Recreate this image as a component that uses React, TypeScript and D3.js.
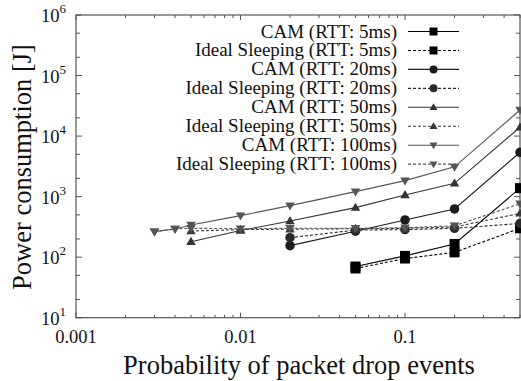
import React from "react";
import * as d3 from "d3";

// x values (probability of packet drop events)
const cam5X = [0.05, 0.1, 0.2, 0.5];
const cam5 = [70, 105, 165, 1380];
const ideal5 = [65, 95, 120, 300];

const cam20X = [0.02, 0.05, 0.1, 0.2, 0.5];
const cam20 = [155, 268, 412, 626, 5400];
const ideal20 = [210, 280, 285, 300, 360];

const cam50X = [0.005, 0.01, 0.02, 0.05, 0.1, 0.2, 0.5];
const cam50 = [180, 275, 396, 658, 1067, 1660, 14000];
const ideal50 = [270, 285, 290, 295, 300, 315, 530];

const cam100X = [0.003, 0.004, 0.005, 0.01, 0.02, 0.05, 0.1, 0.2, 0.5];
const cam100 = [264, 292, 340, 485, 710, 1210, 1838, 3100, 27000];
const ideal100 = [264, 292, 300, 295, 300, 300, 305, 330, 760];

const seriesNames = [
  "CAM (RTT: 5ms)",
  "Ideal Sleeping (RTT: 5ms)",
  "CAM (RTT: 20ms)",
  "Ideal Sleeping (RTT: 20ms)",
  "CAM (RTT: 50ms)",
  "Ideal Sleeping (RTT: 50ms)",
  "CAM (RTT: 100ms)",
  "Ideal Sleeping (RTT: 100ms)",
];

const xTickLabels = ["0.001", "0.01", "0.1"];
const yTickExps = [1, 2, 3, 4, 5, 6];

const W = 521;
const H = 381;
const font = "'Liberation Serif', 'Times New Roman', serif";

type Shape = "square" | "circle" | "up" | "down";

const series = [
  { name: seriesNames[0], xs: cam5X, ys: cam5, shape: "square" as Shape, dashed: false, color: "#000" },
  { name: seriesNames[1], xs: cam5X, ys: ideal5, shape: "square" as Shape, dashed: true, color: "#000" },
  { name: seriesNames[2], xs: cam20X, ys: cam20, shape: "circle" as Shape, dashed: false, color: "#1c1c1c" },
  { name: seriesNames[3], xs: cam20X, ys: ideal20, shape: "circle" as Shape, dashed: true, color: "#2a2a2a" },
  { name: seriesNames[4], xs: cam50X, ys: cam50, shape: "up" as Shape, dashed: false, color: "#333" },
  { name: seriesNames[5], xs: cam50X, ys: ideal50, shape: "up" as Shape, dashed: true, color: "#3a3a3a" },
  { name: seriesNames[6], xs: cam100X, ys: cam100, shape: "down" as Shape, dashed: false, color: "#555" },
  { name: seriesNames[7], xs: cam100X, ys: ideal100, shape: "down" as Shape, dashed: true, color: "#555" },
];

function Marker({ shape, x, y, s, color }: { shape: Shape; x: number; y: number; s: number; color: string }) {
  if (shape === "square") return <rect x={x - s / 2} y={y - s / 2} width={s} height={s} fill={color} />;
  if (shape === "circle") return <circle cx={x} cy={y} r={s / 2} fill={color} />;
  const h = s * 0.85;
  if (shape === "up")
    return <path d={`M${x},${y - h * 0.6}L${x + s / 2},${y + h * 0.4}L${x - s / 2},${y + h * 0.4}Z`} fill={color} />;
  return <path d={`M${x},${y + h * 0.6}L${x + s / 2},${y - h * 0.4}L${x - s / 2},${y - h * 0.4}Z`} fill={color} />;
}

export default function App() {
  const left = 76, right = 520, top = 15, bottom = 317.7;

  const x = d3.scaleLog().domain([0.001, 0.5]).range([left, right]);
  const y = d3.scaleLog().domain([10, 1e6]).range([bottom, top]);

  const line = (xs: number[], ys: number[]) =>
    d3.line<number>().x((d, i) => x(xs[i])).y((d) => y(d))(ys) || "";

  // minor ticks
  const xMinor: number[] = [];
  for (let e = -3; e < 0; e++) for (let k = 2; k <= 9; k++) {
    const v = k * Math.pow(10, e);
    if (v <= 0.5) xMinor.push(v);
  }
  const yMinor: number[] = [];
  for (let e = 1; e < 6; e++) for (const k of [2, 5]) yMinor.push(k * Math.pow(10, e));

  const axisColor = "#555";

  return (
    <svg width={W} height={H} style={{ position: "absolute", left: 0, top: 0, background: "#fff" }}>
      {/* ticks */}
      <g stroke={axisColor} strokeWidth={1}>
        {[0.001, 0.01, 0.1].map((v) => (
          <g key={"xm" + v}>
            <line x1={x(v)} x2={x(v)} y1={bottom} y2={bottom - 5} />
            <line x1={x(v)} x2={x(v)} y1={top} y2={top + 5} />
          </g>
        ))}
        {xMinor.map((v) => (
          <g key={"xn" + v}>
            <line x1={x(v)} x2={x(v)} y1={bottom} y2={bottom - 3} />
            <line x1={x(v)} x2={x(v)} y1={top} y2={top + 3} />
          </g>
        ))}
        {yTickExps.map((e) => (
          <g key={"ym" + e}>
            <line x1={left} x2={left + 6} y1={y(Math.pow(10, e))} y2={y(Math.pow(10, e))} />
            <line x1={right} x2={right - 6} y1={y(Math.pow(10, e))} y2={y(Math.pow(10, e))} />
          </g>
        ))}
        {yMinor.map((v) => (
          <g key={"yn" + v}>
            <line x1={left} x2={left + 4} y1={y(v)} y2={y(v)} />
            <line x1={right} x2={right - 4} y1={y(v)} y2={y(v)} />
          </g>
        ))}
      </g>
      <rect x={left} y={top} width={right - left} height={bottom - top} fill="none" stroke={axisColor} strokeWidth={1.2} />

      {/* tick labels */}
      <g fontFamily={font} fontSize={18.5} fill="#111">
        {[0.001, 0.01, 0.1].map((v, i) => (
          <text key={"xl" + v} x={x(v)} y={343} textAnchor="middle">{xTickLabels[i]}</text>
        ))}
        {yTickExps.map((e) => (
          <text key={"yl" + e} x={66} y={y(Math.pow(10, e)) + 7} textAnchor="end">
            10<tspan fontSize={13} dy={-9}>{e}</tspan>
          </text>
        ))}
      </g>

      {/* axis titles */}
      <text x={299} y={374} textAnchor="middle" fontFamily={font} fontSize={26.5} fill="#111">
        Probability of packet drop events
      </text>
      <text transform={`translate(31,167) rotate(-90)`} textAnchor="middle" fontFamily={font} fontSize={26.5} fill="#111">
        Power consumption [J]
      </text>

      {/* series */}
      {series.map((s) => (
        <g key={s.name}>
          <path d={line(s.xs, s.ys)} fill="none" stroke={s.color} strokeWidth={1.1} strokeDasharray={s.dashed ? "3,2" : undefined} />
          {s.ys.map((v, i) => (
            <Marker key={i} shape={s.shape} x={x(s.xs[i])} y={y(v)} s={s.shape === "square" ? 10 : 9.5} color={s.color} />
          ))}
        </g>
      ))}

      {/* legend */}
      <g fontFamily={font} fontSize={19} fill="#111">
        {series.map((s, i) => {
          const cy = 31.5 + i * 18.95;
          return (
            <g key={"lg" + s.name}>
              <text x={397} y={cy + 6} textAnchor="end">{s.name}</text>
              <line x1={408} x2={459} y1={cy} y2={cy} stroke={s.color} strokeWidth={1.1} strokeDasharray={s.dashed ? "3,2" : undefined} />
              <Marker shape={s.shape} x={433.5} y={cy} s={8} color={s.color} />
            </g>
          );
        })}
      </g>
    </svg>
  );
}
